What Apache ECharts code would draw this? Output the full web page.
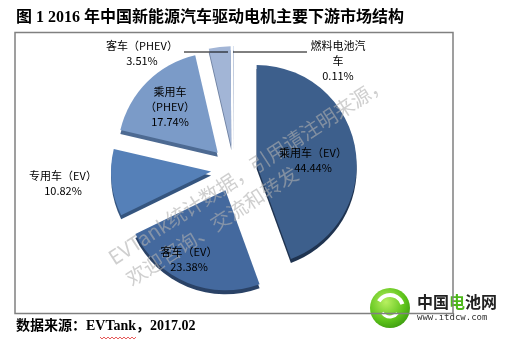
<!DOCTYPE html>
<html><head><meta charset="utf-8">
<script src="https://cdn.jsdelivr.net/npm/echarts@6/dist/echarts.min.js"></script>
<style>html,body{margin:0;padding:0;background:#fff}#c{width:511px;height:342px}</style>
</head><body><div id="c"></div>
<script>
const categories = ['乘用车（EV）','客车（EV）','专用车（EV）','乘用车（PHEV）','客车（PHEV）','燃料电池汽车'];
const values = [44.44, 23.38, 10.82, 17.74, 3.51, 0.11];
const labelNames = ['乘用车（EV）','客车（EV）','专用车（EV）','乘用车\n（PHEV）','客车（PHEV）','燃料电池汽\n车'];
const titleText = '图 1 2016 年中国新能源汽车驱动电机主要下游市场结构';
const sourceText = '数据来源：EVTank，2017.02';
const watermark1 = 'EVTank统计数据，引用请注明来源，';
const watermark2 = '欢迎咨询、交流和转发';

const colors = ['#3d5f8c','#44699e','#5580b8','#7b9bc8','#a2b5d6','#c9d5e9'];
const sideColors = ['#1f3350','#2a4266','#35557f','#4d6a92','#6f82a3','#8d9bb5'];
const labelPos = [[313,160],[189,259],[63,183],[170,107],[142,53],[338,61]];
const leaderLines = [[[184,52],[228,52]], [[233,52],[307,52]]];

const chart = echarts.init(document.getElementById('c'), null, {renderer:'canvas'});
const FONT = '"Noto Sans CJK SC", "Noto Sans", sans-serif';

function mkData(cols){
  return values.map((v,i)=>({
    name: categories[i], value: v, selected: true,
    itemStyle:{color: cols[i]}
  }));
}

const labelGraphics = values.map((v,i)=>({
  type:'text', x:labelPos[i][0], y:labelPos[i][1], z:30,
  style:{text: labelNames[i] + '\n' + v.toFixed(2) + '%', fill:'#000', font:'11px ' + FONT,
         lineHeight:15, align:'center', verticalAlign:'middle'}
}));
const leaderGraphics = leaderLines.map(pts=>({
  type:'line', z:30, shape:{x1:pts[0][0], y1:pts[0][1], x2:pts[1][0], y2:pts[1][1]},
  style:{stroke:'#000', lineWidth:1}
}));

chart.setOption({
  animation:false,
  series:[
    {
      type:'pie', silent:true, z:1,
      center:[234,173], radius:100, startAngle:90, clockwise:true,
      selectedMode:'multiple', selectedOffset:23,
      label:{show:false}, labelLine:{show:false},
      emphasis:{disabled:true},
      data: mkData(sideColors)
    },
    {
      type:'pie', silent:true, z:2,
      center:[234,169], radius:100, startAngle:90, clockwise:true,
      selectedMode:'multiple', selectedOffset:23,
      label:{show:false}, labelLine:{show:false},
      emphasis:{disabled:true},
      data: mkData(colors)
    }
  ],
  graphic:[
    {type:'text', left:16, top:10, z:10, style:{text:titleText, fill:'#000', font:'bold 16px "Liberation Serif", "Noto Sans CJK SC"'}},
    {type:'text', left:16, top:319, z:10, style:{text:sourceText, fill:'#000', font:'bold 14px "Liberation Serif", "Noto Sans CJK SC"'}},
    {type:'polyline', z:10, shape:{points:[[100,337],[102,339],[104,337],[106,339],[108,337],[110,339],[112,337],[114,339],[116,337],[118,339],[120,337],[122,339],[124,337],[126,339],[128,337],[130,339],[132,337],[134,339],[136,337]]}, style:{stroke:'#e03030', lineWidth:0.8, fill:null}},
    {type:'text', x:248, y:170, rotation:33*Math.PI/180, z:20, style:{text:watermark1, fill:'rgba(175,175,175,0.6)', font:'20px "Noto Sans CJK SC"', align:'center', verticalAlign:'middle'}},
    {type:'text', x:212, y:226, rotation:33*Math.PI/180, z:20, style:{text:watermark2, fill:'rgba(175,175,175,0.6)', font:'20px "Noto Sans CJK SC"', align:'center', verticalAlign:'middle'}},
    ...labelGraphics,
    ...leaderGraphics,
    {type:'circle', z:11, shape:{cx:390, cy:308, r:20}, style:{fill:new echarts.graphic.RadialGradient(0.4,0.35,0.8,[{offset:0,color:'#b8f060'},{offset:0.6,color:'#5cc21a'},{offset:1,color:'#2f8a0c'}])}},
    {type:'arc', z:12, shape:{cx:390, cy:308, r:13, startAngle:-2.6, endAngle:-0.3}, style:{stroke:'#fff', lineWidth:4, fill:null}},
    {type:'arc', z:12, shape:{cx:390, cy:308, r:9, startAngle:0.6, endAngle:2.6}, style:{stroke:'#fff', lineWidth:3, fill:null}},
    {type:'text', left:417, top:294, z:11, style:{rich:{a:{fill:'#222',font:'bold 16px "Noto Sans CJK SC"'},b:{fill:'#4db81a',font:'bold 16px "Noto Sans CJK SC"'}}, text:'{a|中国}{b|电}{a|池网}'}},
    {type:'text', left:417, top:313, z:11, style:{text:'www.itdcw.com', fill:'#333', font:'9px "DejaVu Sans Mono", monospace'}},
    {type:'rect', z:15, shape:{x:15, y:32.5, width:438, height:281}, style:{fill:null, stroke:'#808080', lineWidth:1.5}}
  ]
});
</script></body></html>
